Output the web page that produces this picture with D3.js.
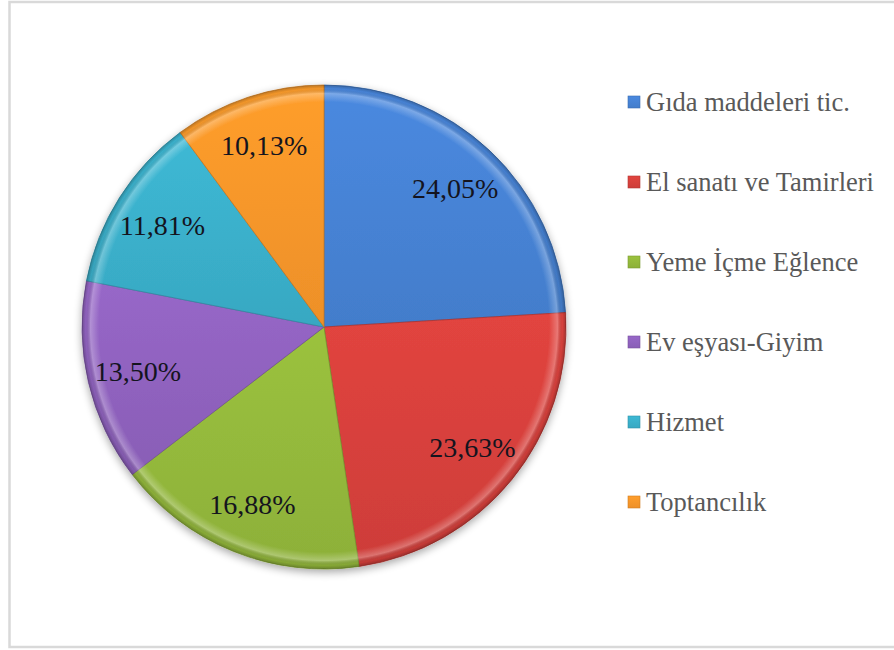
<!DOCTYPE html>
<html><head><meta charset="utf-8">
<script src="https://cdn.jsdelivr.net/npm/d3@7/dist/d3.min.js"></script>
<style>body{margin:0;background:#fff}svg{display:block}
text{font-family:"Liberation Serif","Times New Roman",serif}</style>
</head><body>
<svg id="c" width="894" height="650"></svg>
<script>
const categories = ["Gıda maddeleri tic.", "El sanatı ve Tamirleri", "Yeme İçme Eğlence", "Ev eşyası-Giyim", "Hizmet", "Toptancılık"];
const values = [24.05, 23.63, 16.88, 13.50, 11.81, 10.13];
const labels = ["24,05%", "23,63%", "16,88%", "13,50%", "11,81%", "10,13%"];
const colors = ["#4682d4", "#d6403c", "#93b83b", "#8f62be", "#3aafca", "#f7962a"];

const svg = d3.select("#c");
svg.append("rect").attr("x", 9.5).attr("y", 2).attr("width", 900).attr("height", 645)
  .attr("fill", "#fff").attr("stroke", "#d9d9d9").attr("stroke-width", 2.5);

const cx = 324, cy = 327, R = 242;
const defs = svg.append("defs");
const f = defs.append("filter").attr("id", "sh").attr("x", "-20%").attr("y", "-20%").attr("width", "140%").attr("height", "140%");
f.append("feGaussianBlur").attr("in", "SourceAlpha").attr("stdDeviation", 4).attr("result", "b");
f.append("feOffset").attr("in", "b").attr("dx", 0).attr("dy", 3).attr("result", "o");
f.append("feComponentTransfer").attr("in", "o").attr("result", "o2").append("feFuncA").attr("type", "linear").attr("slope", 0.35);
const fm = f.append("feMerge"); fm.append("feMergeNode").attr("in", "o2"); fm.append("feMergeNode").attr("in", "SourceGraphic");

const rg = defs.append("radialGradient").attr("id", "rim").attr("gradientUnits", "userSpaceOnUse")
  .attr("cx", 0).attr("cy", 0).attr("r", R);
[[0, "#fff", 0], [0.93, "#fff", 0], [0.965, "#fff", 0.28], [0.985, "#000", 0.05], [1, "#000", 0.25]]
  .forEach(([o, c, a]) => rg.append("stop").attr("offset", o).attr("stop-color", c).attr("stop-opacity", a));

colors.forEach((c, i) => {
  const lg = defs.append("linearGradient").attr("id", "g" + i).attr("x1", 0).attr("y1", 0).attr("x2", 0).attr("y2", 1);
  lg.append("stop").attr("offset", 0).attr("stop-color", d3.color(c).brighter(0.15));
  lg.append("stop").attr("offset", 1).attr("stop-color", d3.color(c).darker(0.12));
});

const pie = d3.pie().value(d => d).sort(null).startAngle(0).endAngle(2 * Math.PI);
const arcs = pie(values);
const arc = d3.arc().innerRadius(0).outerRadius(R);
const g = svg.append("g").attr("transform", `translate(${cx},${cy})`);
const gp = g.append("g").attr("filter", "url(#sh)");
gp.selectAll("path.s").data(arcs).join("path").attr("class", "s")
  .attr("d", arc).attr("fill", (d, i) => `url(#g${i})`)
  .attr("stroke", (d, i) => d3.color(colors[i]).darker(0.6)).attr("stroke-width", 0.8);
gp.selectAll("path.r").data(arcs).join("path").attr("class", "r")
  .attr("d", arc).attr("fill", "url(#rim)");

const la = d3.arc().innerRadius(R * 0.79).outerRadius(R * 0.79);
g.selectAll("text").data(arcs).join("text")
  .attr("transform", d => `translate(${la.centroid(d)})`)
  .attr("text-anchor", "middle").attr("dy", "0.35em")
  .attr("font-size", 28)
  .attr("fill", "#14141e")
  .text((d, i) => labels[i]);

const ly = d3.scalePoint().domain(categories).range([102, 502]);
const lg = svg.append("g");
categories.forEach((c, i) => {
  const y = ly(c);
  lg.append("rect").attr("x", 628).attr("y", y - 6).attr("width", 12).attr("height", 12)
    .attr("fill", `url(#g${i})`).attr("stroke", d3.color(colors[i]).darker(0.5)).attr("stroke-width", 0.6);
  lg.append("text").attr("x", 646).attr("y", y).attr("dy", "0.35em")
    .attr("font-size", 26.5)
    .attr("fill", "#595959").text(c);
});
</script>
</body></html>
